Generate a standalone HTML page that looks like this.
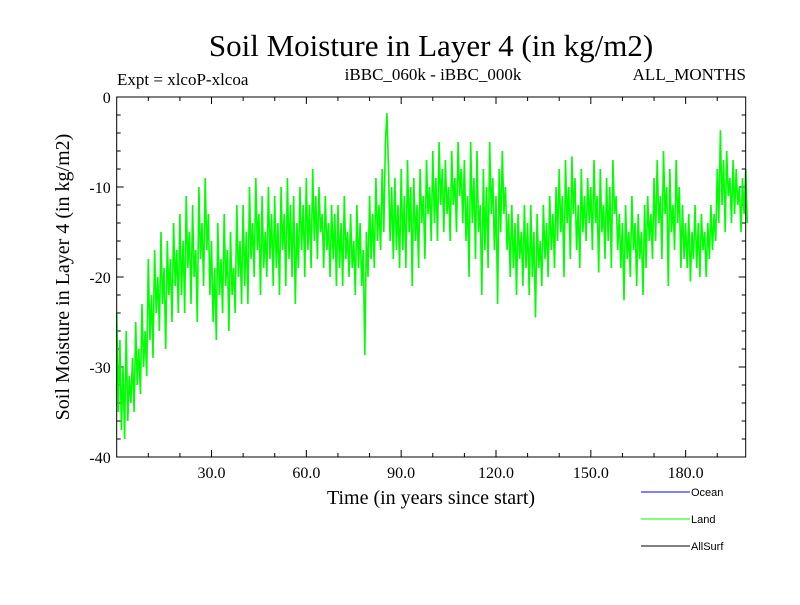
<!DOCTYPE html>
<html><head><meta charset="utf-8"><style>
body{margin:0;background:#fff;}
svg text{font-family:"Liberation Serif",serif;}
svg text.leg{font-family:"Liberation Sans",sans-serif;font-size:11px;}
</style></head><body>
<svg id="chart" width="800" height="600" viewBox="0 0 800 600">
<text x="431" y="56" font-size="31" text-anchor="middle">Soil Moisture in Layer 4 (in kg/m2)</text>
<text x="117" y="85" font-size="17">Expt = xlcoP-xlcoa</text>
<text x="433" y="80" font-size="17" text-anchor="middle">iBBC_060k - iBBC_000k</text>
<text x="746" y="80" font-size="17" text-anchor="end">ALL_MONTHS</text>
<text transform="translate(69,277) rotate(-90)" font-size="20" text-anchor="middle">Soil Moisture in Layer 4 (in kg/m2)</text>
<text x="431" y="504" font-size="20" text-anchor="middle">Time (in years since start)</text>
<g id="ticks"></g>
<g id="series"></g>
<rect x="116.7" y="97" width="629" height="360" fill="none" stroke="#000" stroke-width="1"/>
<g>
<line x1="641" y1="492" x2="690" y2="492" stroke="#0000ff"/>
<text class="leg" x="691" y="496">Ocean</text>
<line x1="641" y1="519" x2="690" y2="519" stroke="#00ff00"/>
<text class="leg" x="691" y="523">Land</text>
<line x1="641" y1="546" x2="690" y2="546" stroke="#000"/>
<text class="leg" x="691" y="550">AllSurf</text>
</g>
</svg>
<script>
const xTicks=[30,60,90,120,150,180];
const xTickLabels=["30.0","60.0","90.0","120.0","150.0","180.0"];
const yTicks=[0,-10,-20,-30,-40];
const yTickLabels=["0","-10","-20","-30","-40"];
const timeStep=0.5;
const landValues=[
-24,-35,-27,-37,-30,-38,-26,-36,-31,-34,-29,-35,-25,-32,-28,-33,-23,-30,-26,-31,
-18,-27,-22,-29,-17,-24,-20,-26,-15,-23,-19,-28,-16,-22,-18,-25,-14,-21,-17,-24,
-13,-22,-16,-24,-11,-19,-15,-23,-12,-20,-17,-25,-10,-18,-14,-21,-9,-17,-13,-22,
-16,-25,-19,-27,-14,-22,-18,-24,-13,-21,-17,-26,-15,-22,-19,-24,-12,-20,-16,-23,
-12,-21,-15,-23,-10,-18,-14,-20,-9,-17,-13,-22,-11,-19,-15,-20,-10,-18,-13,-21,
-11,-19,-14,-22,-10,-17,-13,-21,-9,-18,-12,-20,-11,-23,-14,-19,-10,-17,-12,-20,
-9,-17,-12,-19,-8,-16,-11,-18,-10,-15,-13,-19,-11,-17,-14,-20,-12,-18,-13,-21,
-12,-19,-14,-21,-11,-18,-15,-20,-13,-19,-16,-22,-12,-19,-14,-21,-17,-28.7,-15,-20,
-11,-18,-13,-19,-9,-16,-12,-17,-8,-15,-5,-1.8,-8,-16,-10,-18,-9,-17,-12,-19,
-8,-17,-11,-19,-7,-15,-10,-21,-9,-16,-12,-19,-8,-14,-11,-18,-7,-13,-10,-16,
-6,-14,-9,-16,-5,-12,-8,-15,-7,-13,-10,-16,-6,-12,-9,-15,-5,-11,-8,-14,
-7,-16,-11,-20,-5,-14,-9,-18,-6,-15,-12,-22,-8,-17,-10,-19,-5,-13,-9,-17,
-11,-23,-8,-15,-6,-13,-10,-17,-13,-20,-12,-19,-14,-22,-13,-18,-15,-21,-12,-19,
-14,-22,-12,-20,-15,-24.5,-13,-19,-16,-21,-12,-18,-14,-20,-11,-17,-13,-19,-10,-16,
-8,-15,-11,-20,-7,-14,-10,-18,-6.6,-13,-9,-17,-12,-19,-8,-15,-11,-16,-9,-14,
-10,-17,-7,-14,-11,-19.5,-8,-15,-12,-18,-9,-16,-10,-19,-7,-13,-11,-17,-13,-19,
-14,-22.6,-12,-18,-15,-20,-11,-17,-14,-21,-13,-18,-15,-22,-12,-19,-11,-16,-13,-18,
-9,-16,-7,-14,-11,-18,-6,-13,-10,-21,-8,-15,-12,-17,-7,-14,-10,-19,-12,-18,
-14,-19,-13,-20.5,-15,-18,-12,-19,-14,-20,-13,-17,-15,-20,-14,-18,-12,-17,-13,-16,
-8,-14,-3.7,-12,-7,-15,-6,-11,-9,-14,-7,-13,-8,-12,-10,-15,-9,-13,-8,-14
];
const NS="http://www.w3.org/2000/svg";
const L=116.7,R=745.7,T=97,B=457,xMin=0,xMax=199,yMin=-40,yMax=0;
function sx(v){return L+(v-xMin)/(xMax-xMin)*(R-L);}
function sy(v){return B-(v-yMin)/(yMax-yMin)*(B-T);}
const tg=document.getElementById('ticks');
function line(x1,y1,x2,y2,name){const l=document.createElementNS(NS,'line');l.setAttribute('x1',x1);l.setAttribute('y1',y1);l.setAttribute('x2',x2);l.setAttribute('y2',y2);l.setAttribute('stroke','#000');


tg.appendChild(l);}
function txt(x,y,s,anchor,name){const t=document.createElementNS(NS,'text');t.setAttribute('x',x);t.setAttribute('y',y);t.setAttribute('font-size','16');t.setAttribute('text-anchor',anchor);t.textContent=s;


tg.appendChild(t);}
for(let v=10;v<xMax;v+=10){const x=sx(v);const major=v%30===0;const len=major?7:4;line(x,B,x,B-len,'x-tick');line(x,T,x,T+len,'x-tick-top');}
for(let v=-38;v<0;v+=2){const y=sy(v);const major=v%10===0;const len=major?7:4;line(L,y,L+len,y,'y-tick');line(R,y,R-len,y,'y-tick-right');}
xTicks.forEach((v,i)=>txt(sx(v),478,xTickLabels[i],'middle','x-tick-label'));
yTicks.forEach((v,i)=>txt(L-6,sy(v)+6,yTickLabels[i],'end','y-tick-label'));
const p=document.createElementNS(NS,'polyline');
p.setAttribute('points',landValues.map((v,i)=>sx(i*timeStep).toFixed(1)+','+sy(v).toFixed(1)).join(' '));
p.setAttribute('fill','none');p.setAttribute('stroke','#00ff00');p.setAttribute('stroke-width','1.6');


document.getElementById('series').appendChild(p);
</script>
</body></html>
